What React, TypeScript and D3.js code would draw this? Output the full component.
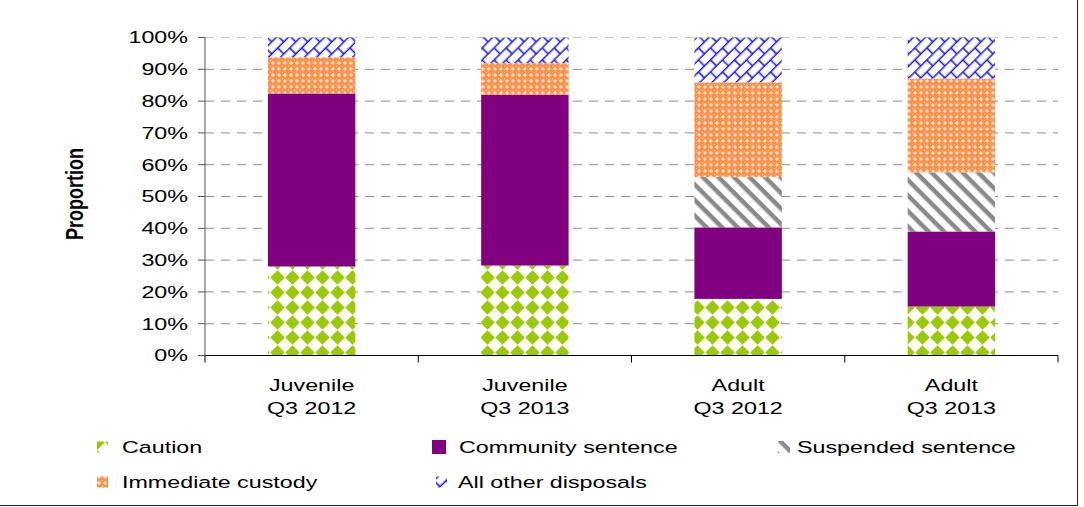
import React from "react";
import * as d3 from "d3";

// Sentencing outcomes by offender group, share of disposals (%)
const categoryGroups = ["Juvenile", "Juvenile", "Adult", "Adult"];
const categoryPeriods = ["Q3 2012", "Q3 2013", "Q3 2012", "Q3 2013"];

const caution = [28.0, 28.3, 17.8, 15.4];
const community = [54.4, 53.7, 22.5, 23.6];
const suspended = [0, 0, 15.8, 18.6];
const custody = [11.4, 10.0, 29.8, 29.5];
const otherDisposals = [6.2, 8.0, 14.1, 12.9];

const seriesNames = [
  "Caution",
  "Community sentence",
  "Suspended sentence",
  "Immediate custody",
  "All other disposals",
];
const seriesKeys = ["caution", "community", "suspended", "custody", "other"];
const yTicks = [0, 10, 20, 30, 40, 50, 60, 70, 80, 90, 100];

const W = 1084;
const H = 507;
const SX = 1.37; // horizontal stretch of the lettering
const FONT = "'Liberation Sans', Arial, sans-serif";

const fills: Record<string, string> = {
  caution: "url(#pCaution)",
  community: "#800080",
  suspended: "url(#pSuspended)",
  custody: "url(#pCustody)",
  other: "url(#pOther)",
};

function SText(props: {
  x: number;
  y: number;
  anchor?: string;
  size?: number;
  weight?: string;
  children: React.ReactNode;
}) {
  const { x, y, anchor = "start", size = 17, weight = "normal", children } = props;
  return (
    <text
      transform={`translate(${x},${y}) scale(${SX},1)`}
      textAnchor={anchor}
      dominantBaseline="central"
      fontFamily={FONT}
      fontSize={size}
      fontWeight={weight}
      fill="#000"
    >
      {children}
    </text>
  );
}

export default function App() {
  const rows = categoryGroups.map((g, i) => ({
    key: i,
    caution: caution[i],
    community: community[i],
    suspended: suspended[i],
    custody: custody[i],
    other: otherDisposals[i],
  }));

  const plotLeft = 205;
  const plotRight = 1058;
  const y0 = 355.5;
  const y100 = 37.5;

  const slot = d3
    .scaleBand<number>()
    .domain(d3.range(categoryGroups.length))
    .range([plotLeft, plotRight])
    .padding(0);
  const x = d3
    .scaleBand<number>()
    .domain(d3.range(categoryGroups.length))
    .range([plotLeft, plotRight])
    .paddingInner(0.59)
    .paddingOuter(0.295);
  const y = d3.scaleLinear().domain([0, 100]).range([y0, y100]);

  const stacked = d3.stack<any>().keys(seriesKeys)(rows);

  const legendItems = [
    { key: "caution", sx: 97, w: 11, tx: 122, y: 447 },
    { key: "community", sx: 432, w: 14, tx: 459, y: 447 },
    { key: "suspended", sx: 778, w: 12, tx: 797, y: 447 },
    { key: "custody", sx: 97, w: 11, tx: 122, y: 482 },
    { key: "other", sx: 436, w: 11, tx: 458, y: 482 },
  ];

  const boundaries = d3.range(categoryGroups.length + 1).map((i) =>
    i < categoryGroups.length ? (slot(i) as number) : plotRight
  );

  return (
    <div style={{ position: "absolute", left: 0, top: 0 }}>
      <svg width={W} height={H} style={{ display: "block", background: "#fff" }}>
        <defs>
          <pattern id="pCaution" width={15} height={15} patternUnits="userSpaceOnUse">
            <rect width={15} height={15} fill="#fff" />
            <polygon points="7.5,0.3 14.7,7.5 7.5,14.7 0.3,7.5" fill="#99CC00" />
          </pattern>
          <pattern
            id="pSuspended"
            width={11}
            height={11}
            patternUnits="userSpaceOnUse"
            patternTransform="rotate(45)"
          >
            <rect width={11} height={11} fill="#fff" />
            <rect width={11} height={4.5} fill="#8a8a8a" />
          </pattern>
          <pattern id="pCustody" width={6} height={6} patternUnits="userSpaceOnUse">
            <rect width={6} height={6} fill="#FF9045" />
            <rect x={2.5} y={1.2} width={1} height={3.6} fill="#fff" />
            <rect x={1.2} y={2.5} width={3.6} height={1} fill="#fff" />
            <rect x={0} y={0} width={1} height={1} fill="#ffe0c8" />
          </pattern>
          <pattern
            id="pOther"
            width={17}
            height={17}
            patternUnits="userSpaceOnUse"
            patternTransform="rotate(-45)"
          >
            <rect width={17} height={17} fill="#fff" />
            <path
              d="M0,0.75H17M0,9.25H17M1,0V9.25M9.5,9.25V17"
              stroke="#1a1aff"
              strokeWidth={1.6}
              fill="none"
            />
          </pattern>
        </defs>

        {/* gridlines */}
        {yTicks
          .filter((t) => t > 0)
          .map((t) => (
            <line
              key={`g${t}`}
              x1={plotLeft}
              x2={plotRight}
              y1={y(t)}
              y2={y(t)}
              stroke={t === 100 ? "#c8c8c8" : "#8c8c8c"}
              strokeWidth={1}
              strokeDasharray="9,7"
            />
          ))}

        {/* stacked bars */}
        {stacked.map((layer) => (
          <g key={layer.key} fill={fills[layer.key]}>
            {layer.map((d, i) =>
              d[1] - d[0] > 0 ? (
                <rect
                  key={i}
                  x={x(i)}
                  width={x.bandwidth()}
                  y={y(d[1])}
                  height={y(d[0]) - y(d[1])}
                />
              ) : null
            )}
          </g>
        ))}

        {/* y axis */}
        <line x1={plotLeft} x2={plotLeft} y1={y100} y2={y0} stroke="#555" />
        {yTicks.map((t) => (
          <g key={`t${t}`}>
            <line x1={plotLeft - 7} x2={plotLeft} y1={y(t)} y2={y(t)} stroke="#555" />
            <SText x={188} y={y(t)} anchor="end">
              {`${t}%`}
            </SText>
          </g>
        ))}

        {/* x axis */}
        <line x1={plotLeft} x2={plotRight} y1={y0} y2={y0} stroke="#000" />
        {boundaries.map((b, i) => (
          <line key={`b${i}`} x1={b} x2={b} y1={y0} y2={y0 + 7} stroke="#000" />
        ))}
        {categoryGroups.map((g, i) => {
          const cx = (slot(i) as number) + slot.bandwidth() / 2;
          return (
            <g key={`c${i}`}>
              <SText x={cx} y={385} anchor="middle">
                {g}
              </SText>
              <SText x={cx} y={408} anchor="middle">
                {categoryPeriods[i]}
              </SText>
            </g>
          );
        })}

        {/* axis title */}
        <text
          transform={`translate(74,194) rotate(-90) scale(1,${SX})`}
          textAnchor="middle"
          dominantBaseline="central"
          fontFamily={FONT}
          fontSize={18}
          fontWeight="bold"
          fill="#000"
        >
          Proportion
        </text>

        {/* legend */}
        {legendItems.map((it) => {
          const idx = seriesKeys.indexOf(it.key);
          return (
            <g key={`l${it.key}`}>
              <rect
                x={it.sx}
                y={it.y - it.w / 2}
                width={it.w}
                height={it.w}
                fill={fills[it.key]}
              />
              <SText x={it.tx} y={it.y}>
                {seriesNames[idx]}
              </SText>
            </g>
          );
        })}

        {/* chart frame */}
        <line x1={1077.5} x2={1077.5} y1={0} y2={505.5} stroke="#222" />
        <line x1={0} x2={1077.5} y1={505.5} y2={505.5} stroke="#222" />
      </svg>
    </div>
  );
}
